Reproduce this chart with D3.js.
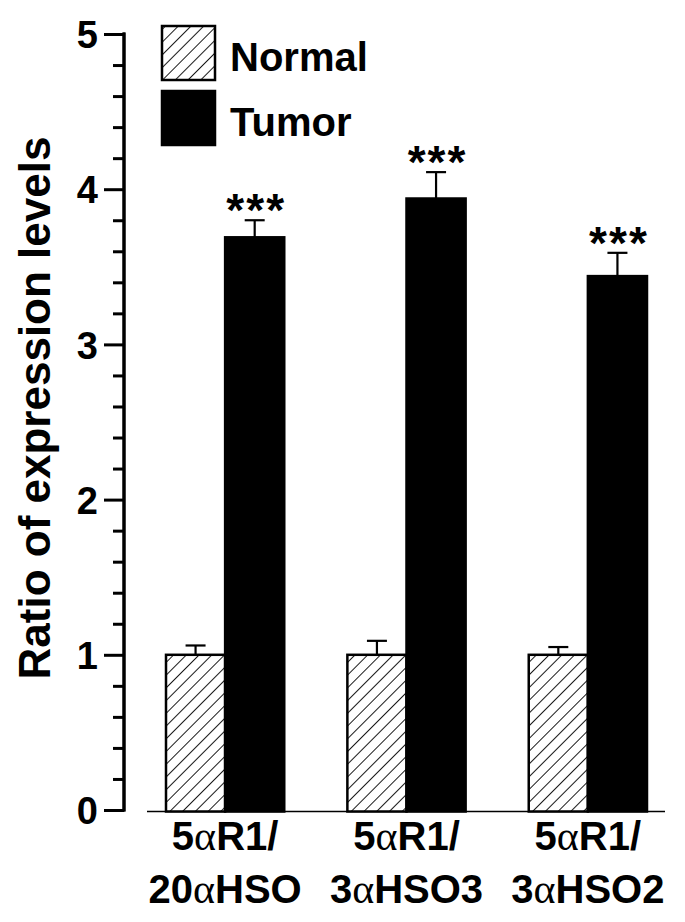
<!DOCTYPE html>
<html><head><meta charset="utf-8">
<script src="https://cdn.jsdelivr.net/npm/d3@7"></script>
<style>body{margin:0;background:#fff}svg{display:block}</style>
</head><body>
<svg id="c" width="685" height="922"></svg>
<script>
const categories = ["5αR1/|20αHSO", "5αR1/|3αHSO3", "5αR1/|3αHSO2"];
const seriesNames = ["Normal", "Tumor"];
const normalValues = [1.0, 1.0, 1.0];
const normalErrors = [0.06, 0.09, 0.05];
const tumorValues = [3.69, 3.94, 3.44];
const tumorErrors = [0.11, 0.17, 0.15];
const significance = ["***", "***", "***"];
const majorTicks = [0, 1, 2, 3, 4, 5];
const yTitle = "Ratio of expression levels";

const svg = d3.select("#c");
const FONT = "'Liberation Sans', Arial, sans-serif";
const y = d3.scaleLinear().domain([0, 5]).range([810, 34]);
const x = d3.scaleBand().domain(categories).range([166, 647]).paddingInner(0.348).paddingOuter(0);
const xs = d3.scaleBand().domain(seriesNames).range([0, x.bandwidth()]);

// hatch pattern
const defs = svg.append("defs");
const HS = 9;
const pat = defs.append("pattern").attr("id", "hatch").attr("patternUnits", "userSpaceOnUse")
  .attr("width", HS).attr("height", HS).attr("patternTransform", "rotate(45)");
pat.append("rect").attr("width", HS).attr("height", HS).attr("fill", "#fff");
pat.append("line").attr("x1", 0).attr("y1", 0).attr("x2", 0).attr("y2", HS)
  .attr("stroke", "#000").attr("stroke-width", 1.8);

// y axis
const majorAxis = d3.axisLeft(y).tickValues(majorTicks).tickSize(20).tickPadding(6).tickFormat(d3.format("d"));
const minorVals = d3.range(0, 5.001, 0.2).map(v => +v.toFixed(1)).filter(v => !majorTicks.includes(v));
const minorAxis = d3.axisLeft(y).tickValues(minorVals).tickSize(11).tickFormat("");
const axX = 124;
const gMinor = svg.append("g").attr("transform", `translate(${axX},0)`).call(minorAxis);
const gMajor = svg.append("g").attr("transform", `translate(${axX},0)`).call(majorAxis);
[gMinor, gMajor].forEach(g => {
  g.selectAll("path.domain").attr("stroke", "#000").attr("stroke-width", 3).attr("d", `M0,${y(0)+1.5}V${y(5)-1.5}`);
  g.selectAll(".tick line").attr("stroke", "#000").attr("stroke-width", 3);
});
gMajor.selectAll(".tick text").attr("font-family", FONT).attr("font-weight", "bold")
  .attr("font-size", 38).attr("fill", "#000").attr("dy", "0.36em");

// baseline
svg.append("line").attr("x1", 147).attr("x2", 665).attr("y1", y(0) + 1.5).attr("y2", y(0) + 1.5)
  .attr("stroke", "#000").attr("stroke-width", 1.6);

// bars
const groups = svg.selectAll("g.grp").data(categories).enter().append("g")
  .attr("class", "grp").attr("transform", d => `translate(${x(d)},0)`);

groups.each(function(cat, i) {
  const g = d3.select(this);
  const series = [
    {name: "Normal", v: normalValues[i], e: normalErrors[i]},
    {name: "Tumor", v: tumorValues[i], e: tumorErrors[i]}
  ];
  series.forEach(s => {
    const bx = xs(s.name), bw = xs.bandwidth(), cx = bx + bw / 2;
    g.append("line").attr("x1", cx).attr("x2", cx).attr("y1", y(s.v)).attr("y2", y(s.v + s.e))
      .attr("stroke", "#000").attr("stroke-width", 2.2);
    g.append("line").attr("x1", cx - 10).attr("x2", cx + 10).attr("y1", y(s.v + s.e)).attr("y2", y(s.v + s.e))
      .attr("stroke", "#000").attr("stroke-width", 2.2);
    g.append("rect").attr("x", bx).attr("y", y(s.v)).attr("width", bw).attr("height", y(0) - y(s.v) + 1.5)
      .attr("fill", s.name === "Normal" ? "url(#hatch)" : "#000")
      .attr("stroke", "#000").attr("stroke-width", 2.5);
    if (s.name === "Tumor") {
      g.append("text").attr("x", cx + 1.5).attr("y", y(s.v + s.e) + 6).attr("text-anchor", "middle")
        .attr("font-family", FONT).attr("font-weight", "bold").attr("font-size", 46).attr("fill", "#000")
        .attr("letter-spacing", 2)
        .text(significance[i]);
    }
  });
  const lines = cat.split("|");
  lines.forEach((ln, li) => {
    const t = g.append("text").attr("x", x.bandwidth() / 2).attr("y", 850 + li * 53)
      .attr("text-anchor", "middle").attr("font-family", FONT).attr("font-weight", "bold")
      .attr("font-size", 40).attr("fill", "#000");
    ln.split(/(α)/).filter(p => p.length).forEach(p => {
      const ts = t.append("tspan").text(p);
      if (p === "α") ts.attr("font-family", "'Liberation Serif', 'Times New Roman', serif").attr("font-weight", "normal").attr("font-size", 42);
    });
  });
});

// y title
svg.append("text").attr("transform", `translate(50,408) rotate(-90)`).attr("text-anchor", "middle")
  .attr("font-family", FONT).attr("font-weight", "bold").attr("font-size", 44).attr("fill", "#000")
  .text(yTitle);

// legend
const legend = svg.append("g");
const legendRows = [{name: "Normal", y: 26}, {name: "Tumor", y: 91}];
legendRows.forEach(r => {
  legend.append("rect").attr("x", 162).attr("y", r.y).attr("width", 53).attr("height", 54)
    .attr("fill", r.name === "Normal" ? "url(#hatch)" : "#000").attr("stroke", "#000").attr("stroke-width", 2.5);
  legend.append("text").attr("x", 230).attr("y", r.y + 45).attr("font-family", FONT).attr("font-weight", "bold")
    .attr("font-size", 40).attr("fill", "#000").text(r.name);
});
</script>
</body></html>
